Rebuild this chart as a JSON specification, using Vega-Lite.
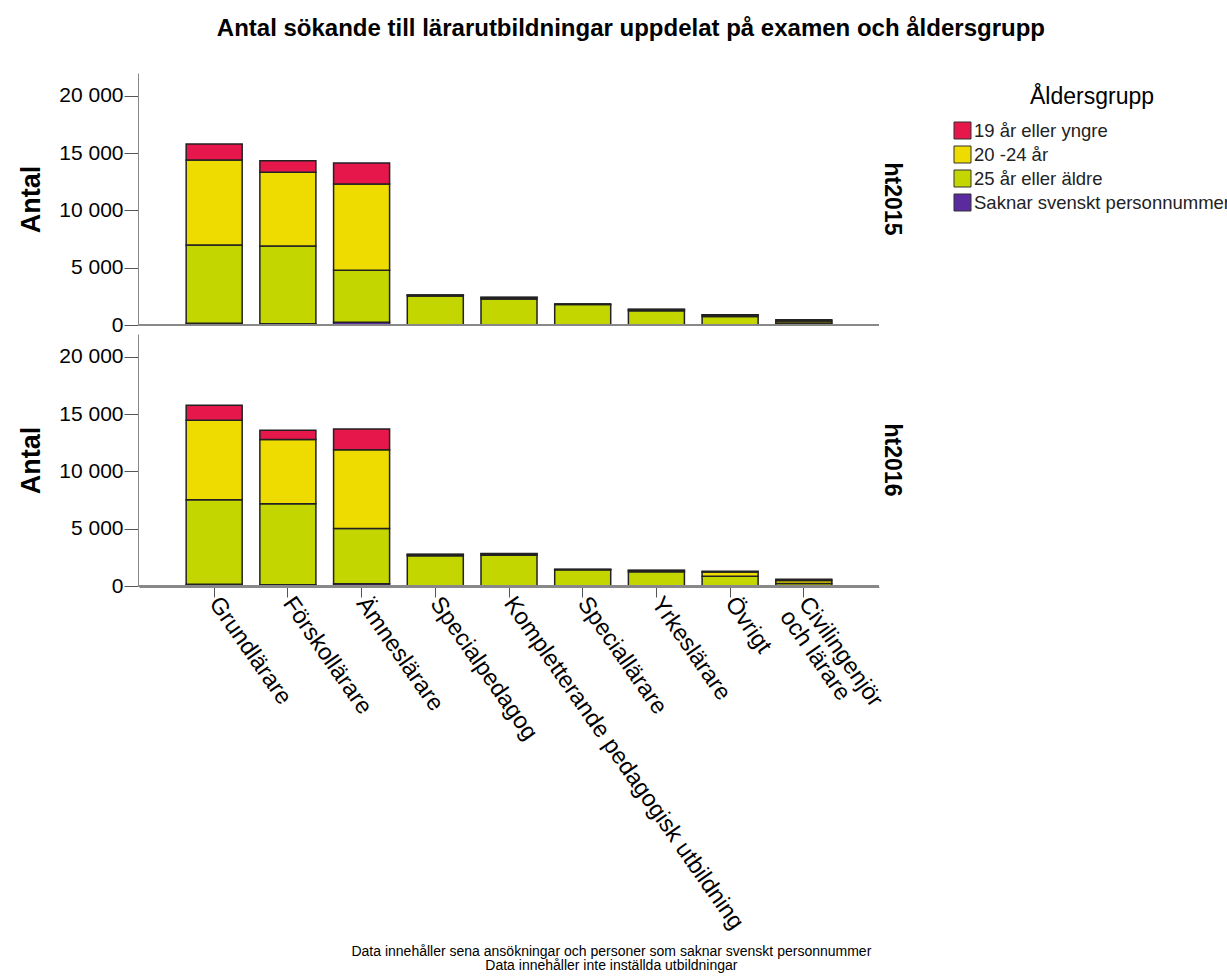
{
  "$schema": "https://vega.github.io/schema/vega-lite/v6.json",
  "background": "white",
  "padding": {"left": 17, "top": 17, "right": 0, "bottom": 5},
  "config": {
    "font": "Liberation Sans",
    "view": {"stroke": null},
    "concat": {"spacing": 0}
  },
  "title": {
    "text": "Antal sökande till lärarutbildningar uppdelat på examen och åldersgrupp",
    "anchor": "middle",
    "fontSize": 24,
    "fontWeight": "bold",
    "color": "#000",
    "offset": 32,
    "dx": 0
  },
  "data": {
    "values": [
      {"year": "ht2015", "exam": "Grundlärare", "age": "Saknar svenskt personnummer", "n": 150},
      {"year": "ht2015", "exam": "Grundlärare", "age": "25 år eller äldre", "n": 6840},
      {"year": "ht2015", "exam": "Grundlärare", "age": "20 -24 år", "n": 7420},
      {"year": "ht2015", "exam": "Grundlärare", "age": "19 år eller yngre", "n": 1400},
      {"year": "ht2015", "exam": "Förskollärare", "age": "Saknar svenskt personnummer", "n": 100},
      {"year": "ht2015", "exam": "Förskollärare", "age": "25 år eller äldre", "n": 6800},
      {"year": "ht2015", "exam": "Förskollärare", "age": "20 -24 år", "n": 6430},
      {"year": "ht2015", "exam": "Förskollärare", "age": "19 år eller yngre", "n": 1020},
      {"year": "ht2015", "exam": "Ämneslärare", "age": "Saknar svenskt personnummer", "n": 250},
      {"year": "ht2015", "exam": "Ämneslärare", "age": "25 år eller äldre", "n": 4530},
      {"year": "ht2015", "exam": "Ämneslärare", "age": "20 -24 år", "n": 7530},
      {"year": "ht2015", "exam": "Ämneslärare", "age": "19 år eller yngre", "n": 1840},
      {"year": "ht2015", "exam": "Specialpedagog", "age": "Saknar svenskt personnummer", "n": 20},
      {"year": "ht2015", "exam": "Specialpedagog", "age": "25 år eller äldre", "n": 2520},
      {"year": "ht2015", "exam": "Specialpedagog", "age": "20 -24 år", "n": 70},
      {"year": "ht2015", "exam": "Specialpedagog", "age": "19 år eller yngre", "n": 10},
      {"year": "ht2015", "exam": "Kompletterande pedagogisk utbildning", "age": "Saknar svenskt personnummer", "n": 30},
      {"year": "ht2015", "exam": "Kompletterande pedagogisk utbildning", "age": "25 år eller äldre", "n": 2250},
      {"year": "ht2015", "exam": "Kompletterande pedagogisk utbildning", "age": "20 -24 år", "n": 130},
      {"year": "ht2015", "exam": "Kompletterande pedagogisk utbildning", "age": "19 år eller yngre", "n": 10},
      {"year": "ht2015", "exam": "Speciallärare", "age": "Saknar svenskt personnummer", "n": 10},
      {"year": "ht2015", "exam": "Speciallärare", "age": "25 år eller äldre", "n": 1780},
      {"year": "ht2015", "exam": "Speciallärare", "age": "20 -24 år", "n": 40},
      {"year": "ht2015", "exam": "Speciallärare", "age": "19 år eller yngre", "n": 0},
      {"year": "ht2015", "exam": "Yrkeslärare", "age": "Saknar svenskt personnummer", "n": 20},
      {"year": "ht2015", "exam": "Yrkeslärare", "age": "25 år eller äldre", "n": 1220},
      {"year": "ht2015", "exam": "Yrkeslärare", "age": "20 -24 år", "n": 120},
      {"year": "ht2015", "exam": "Yrkeslärare", "age": "19 år eller yngre", "n": 10},
      {"year": "ht2015", "exam": "Övrigt", "age": "Saknar svenskt personnummer", "n": 20},
      {"year": "ht2015", "exam": "Övrigt", "age": "25 år eller äldre", "n": 730},
      {"year": "ht2015", "exam": "Övrigt", "age": "20 -24 år", "n": 130},
      {"year": "ht2015", "exam": "Övrigt", "age": "19 år eller yngre", "n": 20},
      {"year": "ht2015", "exam": "Civilingenjör och lärare", "age": "Saknar svenskt personnummer", "n": 20},
      {"year": "ht2015", "exam": "Civilingenjör och lärare", "age": "25 år eller äldre", "n": 160},
      {"year": "ht2015", "exam": "Civilingenjör och lärare", "age": "20 -24 år", "n": 180},
      {"year": "ht2015", "exam": "Civilingenjör och lärare", "age": "19 år eller yngre", "n": 100},
      {"year": "ht2016", "exam": "Grundlärare", "age": "Saknar svenskt personnummer", "n": 150},
      {"year": "ht2016", "exam": "Grundlärare", "age": "25 år eller äldre", "n": 7370},
      {"year": "ht2016", "exam": "Grundlärare", "age": "20 -24 år", "n": 6950},
      {"year": "ht2016", "exam": "Grundlärare", "age": "19 år eller yngre", "n": 1320},
      {"year": "ht2016", "exam": "Förskollärare", "age": "Saknar svenskt personnummer", "n": 100},
      {"year": "ht2016", "exam": "Förskollärare", "age": "25 år eller äldre", "n": 7070},
      {"year": "ht2016", "exam": "Förskollärare", "age": "20 -24 år", "n": 5610},
      {"year": "ht2016", "exam": "Förskollärare", "age": "19 år eller yngre", "n": 820},
      {"year": "ht2016", "exam": "Ämneslärare", "age": "Saknar svenskt personnummer", "n": 200},
      {"year": "ht2016", "exam": "Ämneslärare", "age": "25 år eller äldre", "n": 4830},
      {"year": "ht2016", "exam": "Ämneslärare", "age": "20 -24 år", "n": 6870},
      {"year": "ht2016", "exam": "Ämneslärare", "age": "19 år eller yngre", "n": 1810},
      {"year": "ht2016", "exam": "Specialpedagog", "age": "Saknar svenskt personnummer", "n": 20},
      {"year": "ht2016", "exam": "Specialpedagog", "age": "25 år eller äldre", "n": 2630},
      {"year": "ht2016", "exam": "Specialpedagog", "age": "20 -24 år", "n": 110},
      {"year": "ht2016", "exam": "Specialpedagog", "age": "19 år eller yngre", "n": 20},
      {"year": "ht2016", "exam": "Kompletterande pedagogisk utbildning", "age": "Saknar svenskt personnummer", "n": 30},
      {"year": "ht2016", "exam": "Kompletterande pedagogisk utbildning", "age": "25 år eller äldre", "n": 2660},
      {"year": "ht2016", "exam": "Kompletterande pedagogisk utbildning", "age": "20 -24 år", "n": 130},
      {"year": "ht2016", "exam": "Kompletterande pedagogisk utbildning", "age": "19 år eller yngre", "n": 10},
      {"year": "ht2016", "exam": "Speciallärare", "age": "Saknar svenskt personnummer", "n": 10},
      {"year": "ht2016", "exam": "Speciallärare", "age": "25 år eller äldre", "n": 1400},
      {"year": "ht2016", "exam": "Speciallärare", "age": "20 -24 år", "n": 40},
      {"year": "ht2016", "exam": "Speciallärare", "age": "19 år eller yngre", "n": 10},
      {"year": "ht2016", "exam": "Yrkeslärare", "age": "Saknar svenskt personnummer", "n": 20},
      {"year": "ht2016", "exam": "Yrkeslärare", "age": "25 år eller äldre", "n": 1230},
      {"year": "ht2016", "exam": "Yrkeslärare", "age": "20 -24 år", "n": 110},
      {"year": "ht2016", "exam": "Yrkeslärare", "age": "19 år eller yngre", "n": 10},
      {"year": "ht2016", "exam": "Övrigt", "age": "Saknar svenskt personnummer", "n": 20},
      {"year": "ht2016", "exam": "Övrigt", "age": "25 år eller äldre", "n": 830},
      {"year": "ht2016", "exam": "Övrigt", "age": "20 -24 år", "n": 380},
      {"year": "ht2016", "exam": "Övrigt", "age": "19 år eller yngre", "n": 60},
      {"year": "ht2016", "exam": "Civilingenjör och lärare", "age": "Saknar svenskt personnummer", "n": 20},
      {"year": "ht2016", "exam": "Civilingenjör och lärare", "age": "25 år eller äldre", "n": 200},
      {"year": "ht2016", "exam": "Civilingenjör och lärare", "age": "20 -24 år", "n": 260},
      {"year": "ht2016", "exam": "Civilingenjör och lärare", "age": "19 år eller yngre", "n": 110}
    ]
  },
  "vconcat": [
    {
      "title": {
        "text": ["Data innehåller sena ansökningar och personer som saknar svenskt personnummer", "Data innehåller inte inställda utbildningar"],
        "orient": "bottom",
        "anchor": "middle",
        "fontSize": 14,
        "fontWeight": "normal",
        "color": "#000",
        "lineHeight": 14,
        "offset": 12,
        "dx": 151
      },
      "facet": {
        "row": {
          "field": "year",
          "type": "nominal",
          "title": null,
          "header": {
            "labelOrient": "right",
            "labelAngle": 90,
            "labelFontSize": 23,
            "labelFontWeight": "bold",
            "labelColor": "#000",
            "labelPadding": 0
          }
        }
      },
      "spacing": {"row": 8},
      "spec": {
        "width": 740,
        "height": 252,
        "layer": [
          {
            "mark": {"type": "bar", "stroke": "#222", "strokeWidth": 1.5},
            "encoding": {
              "x": {
                "field": "exam",
                "type": "nominal",
                "sort": ["Grundlärare", "Förskollärare", "Ämneslärare", "Specialpedagog", "Kompletterande pedagogisk utbildning", "Speciallärare", "Yrkeslärare", "Övrigt", "Civilingenjör och lärare"],
                "scale": {"paddingInner": 0.24, "paddingOuter": 0.64},
                "axis": {
                  "title": null,
                  "labelAngle": 55,
                  "labelFontSize": 23.5,
                  "labelColor": "#000",
                  "labelLimit": 0,
                  "labelPadding": 2,
                  "labelLineHeight": 23,
                  "tickSize": 10,
                  "tickColor": "#555",
                  "domainColor": "#888",
                  "labelExpr": "datum.label == 'Civilingenjör och lärare' ? ['Civilingenjör', 'och lärare'] : datum.label"
                }
              },
              "y": {
                "field": "n",
                "type": "quantitative",
                "aggregate": "sum",
                "stack": "zero",
                "scale": {"domain": [0, 22000], "nice": false},
                "axis": {
                  "title": "Antal",
                  "titleFontSize": 27,
                  "titleFontWeight": "bold",
                  "titleColor": "#000",
                  "titlePadding": 13,
                  "labelFontSize": 21,
                  "labelColor": "#000",
                  "labelPadding": 1,
                  "tickSize": 14,
                  "tickColor": "#555",
                  "domainColor": "#888",
                  "grid": false,
                  "values": [0, 5000, 10000, 15000, 20000],
                  "labelExpr": "replace(format(datum.value, ','), ',', ' ')"
                }
              },
              "color": {
                "field": "age",
                "type": "nominal",
                "scale": {
                  "domain": ["19 år eller yngre", "20 -24 år", "25 år eller äldre", "Saknar svenskt personnummer"],
                  "range": ["#E5174B", "#EEDB00", "#C4D600", "#5B2A9E"]
                },
                "legend": {
                  "title": "Åldersgrupp",
                  "titleFontSize": 23,
                  "titleFontWeight": "normal",
                  "titleColor": "#000",
                  "titleAnchor": "middle",
                  "titlePadding": 12,
                  "labelFontSize": 18.5,
                  "labelColor": "#222",
                  "labelLimit": 0,
                  "labelOffset": 2,
                  "symbolType": "square",
                  "symbolSize": 290,
                  "symbolStrokeColor": "#333",
                  "symbolStrokeWidth": 1,
                  "symbolOpacity": 1,
                  "rowPadding": 1,
                  "padding": 13,
                  "offset": 37
                }
              },
              "order": {"field": "age", "sort": "descending"}
            }
          },
          {
            "mark": {"type": "rule", "color": "#888", "strokeWidth": 1},
            "encoding": {"y": {"datum": 0}}
          }
        ]
      }
    }
  ]
}
